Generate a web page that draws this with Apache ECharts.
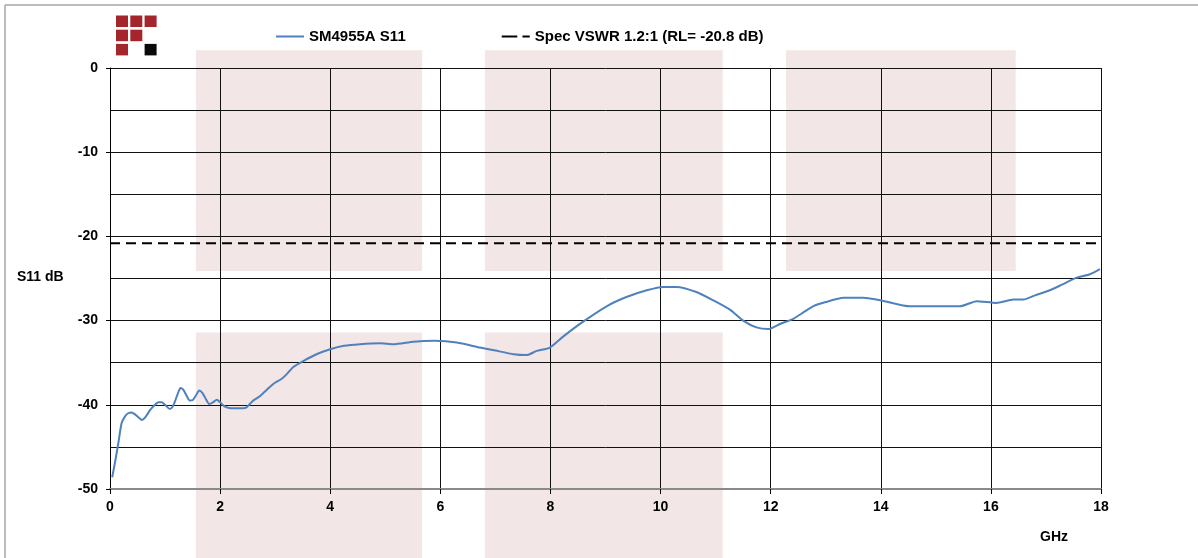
<!DOCTYPE html>
<html>
<head>
<meta charset="utf-8">
<script src="https://cdn.jsdelivr.net/npm/echarts@6/dist/echarts.min.js"></script>
<style>
html,body{margin:0;padding:0;background:#fff;}
#chart{width:1198px;height:558px;}
</style>
</head>
<body>
<div id="chart"></div>
<script>
const freqGHz = [0.04,0.1,0.15,0.21,0.27,0.33,0.39,0.45,0.52,0.58,0.65,0.73,0.8,0.88,0.94,1.0,1.09,1.14,1.18,1.23,1.28,1.33,1.39,1.45,1.51,1.56,1.62,1.68,1.74,1.8,1.87,1.94,2.0,2.06,2.12,2.2,2.3,2.42,2.48,2.54,2.6,2.72,2.85,2.97,3.12,3.22,3.33,3.51,3.75,4.0,4.25,4.54,4.9,5.15,5.51,5.9,6.3,6.72,6.96,7.33,7.57,7.75,7.99,8.23,8.6,9.02,9.38,9.75,10.05,10.29,10.65,10.96,11.26,11.5,11.74,11.96,12.17,12.41,12.6,12.77,13.0,13.32,13.68,14.01,14.53,14.95,15.44,15.74,16.1,16.41,16.59,16.8,17.07,17.3,17.56,17.8,17.98];
const s11dB = [-48.6,-46.5,-44.6,-42.2,-41.4,-41.0,-40.9,-41.1,-41.5,-41.8,-41.4,-40.6,-40.1,-39.7,-39.7,-40.0,-40.5,-40.2,-39.6,-38.7,-38.0,-38.2,-38.9,-39.5,-39.4,-38.9,-38.3,-38.6,-39.3,-39.9,-39.7,-39.4,-39.7,-40.1,-40.3,-40.4,-40.4,-40.4,-40.3,-39.9,-39.5,-39.0,-38.2,-37.5,-36.9,-36.3,-35.5,-34.8,-34.0,-33.4,-33.0,-32.8,-32.7,-32.8,-32.5,-32.4,-32.6,-33.2,-33.5,-34.0,-34.1,-33.6,-33.2,-31.9,-30.1,-28.3,-27.2,-26.4,-26.0,-26.0,-26.6,-27.6,-28.7,-30.0,-30.8,-31.0,-30.4,-29.8,-29.0,-28.3,-27.8,-27.3,-27.3,-27.6,-28.3,-28.3,-28.3,-27.7,-27.9,-27.5,-27.5,-27.0,-26.4,-25.7,-24.9,-24.5,-23.9];
const specFreq = [0, 18];
const specRL = [-20.8, -20.8];
const seriesNames = ['SM4955A S11', 'Spec VSWR 1.2:1 (RL= -20.8 dB)'];
const yAxisTitle = 'S11 dB';
const xAxisTitle = 'GHz';
// shaded frequency bands (GHz) and dB extents
const bandFreqs = [[1.56,5.67],[6.81,11.13],[12.28,16.45]];
const upperBandDB = [2.1, -24.1];
const lowerBandDB = [-31.4, -60];
const lowerBandIdx = [0, 1];

const chart = echarts.init(document.getElementById('chart'), null, {renderer:'canvas'});
const FONT = 'Liberation Sans, Arial, sans-serif';

const option = {
  animation: false,
  backgroundColor: '#fff',
  grid: {left: 110, right: 97, top: 68, bottom: 69, containLabel: false},
  legend: {
    left: 276, top: 29, padding: 0, itemWidth: 28, itemHeight: 14, itemGap: 96,
    textStyle: {fontFamily: FONT, fontSize: 15, fontWeight: 'bold', color: '#000'},
    data: [
      {name: seriesNames[0], icon: 'path://M0,6L28,6L28,8L0,8Z'},
      {name: seriesNames[1], icon: 'path://M0,6L15,6L15,8L0,8ZM20,6L27,6L27,8L20,8Z'}
    ]
  },
  xAxis: {
    type: 'value', min: 0, max: 18, interval: 2,
    axisLine: {show: true, onZero: false, lineStyle: {color: '#8a8a8a', width: 2}},
    axisTick: {show: true, length: 5, lineStyle: {color: '#000'}},
    axisLabel: {margin: 11, fontFamily: FONT, fontSize: 14, fontWeight: 'bold', color: '#000'},
    splitLine: {show: true, lineStyle: {color: '#111', width: 1}}
  },
  yAxis: {
    type: 'value', min: -50, max: 0, interval: 10,
    axisLine: {show: true, onZero: false, lineStyle: {color: '#000', width: 1}},
    axisTick: {show: true, length: 4, lineStyle: {color: '#000'}},
    axisLabel: {margin: 12, fontFamily: FONT, fontSize: 14, fontWeight: 'bold', color: '#000'},
    splitLine: {show: true, lineStyle: {color: '#111', width: 1}},
    minorTick: {show: false, splitNumber: 2},
    minorSplitLine: {show: true, lineStyle: {color: '#111', width: 1}}
  },
  series: [
    {
      name: seriesNames[0], type: 'line', symbol: 'none', smooth: 0.2,
      lineStyle: {color: '#4f81bd', width: 2}, itemStyle: {color: '#4f81bd'},
      data: freqGHz.map((f, i) => [f, s11dB[i]]), z: 5
    },
    {
      name: seriesNames[1], type: 'line', symbol: 'none',
      lineStyle: {color: '#000', width: 2, type: [10, 6]}, itemStyle: {color: '#000'},
      data: specFreq.map((f, i) => [f, specRL[i]]), z: 4
    }
  ]
};
chart.setOption(option);

function px(x, y) { return chart.convertToPixel({gridIndex: 0}, [x, y]); }
const graphics = [];
bandFreqs.forEach((b, i) => {
  const exts = [upperBandDB];
  if (lowerBandIdx.indexOf(i) >= 0) exts.push(lowerBandDB);
  exts.forEach(e => {
    const p1 = px(b[0], e[0]);
    const p2 = px(b[1], e[1]);
    graphics.push({type: 'rect', z: -10, silent: true,
      shape: {x: p1[0], y: p1[1], width: p2[0] - p1[0], height: p2[1] - p1[1]},
      style: {fill: '#f2e6e6'}});
  });
});
// frame lines
graphics.push({type: 'line', z: -5, shape: {x1: 5, y1: 5, x2: 1198, y2: 5}, style: {stroke: '#a6a6a6', lineWidth: 1.5}});
graphics.push({type: 'line', z: -5, shape: {x1: 5, y1: 5, x2: 5, y2: 558}, style: {stroke: '#a6a6a6', lineWidth: 1.5}});
// logo
const logo = [[0,0,'#a4252b'],[1,0,'#a4252b'],[2,0,'#a4252b'],[0,1,'#a4252b'],[1,1,'#a4252b'],[0,2,'#a4252b'],[2,2,'#0a0a0a']];
logo.forEach(l => graphics.push({type: 'rect', shape: {x: 116 + l[0]*14.3, y: 15.5 + l[1]*14.2, width: 12, height: 11.5}, style: {fill: l[2]}}));
// axis titles
graphics.push({type: 'text', left: 17, top: 270, style: {text: yAxisTitle, font: 'bold 14px ' + FONT, fill: '#000'}});
graphics.push({type: 'text', left: 1040, top: 530, style: {text: xAxisTitle, font: 'bold 14px ' + FONT, fill: '#000'}});
chart.setOption({graphic: graphics});
</script>
</body>
</html>
